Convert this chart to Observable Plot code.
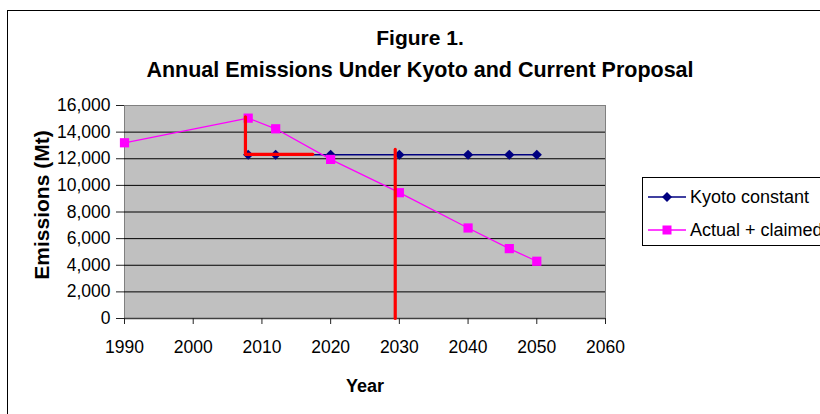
<!DOCTYPE html>
<html><head><meta charset="utf-8">
<script src="https://cdn.jsdelivr.net/npm/d3@7"></script>
<script src="https://cdn.jsdelivr.net/npm/@observablehq/plot@0.6"></script>
<style>
html,body{margin:0;padding:0;background:#fff;overflow:hidden;}
#page{position:relative;width:820px;height:414px;overflow:hidden;font-family:"Liberation Sans",Arial,sans-serif;color:#000;}
#frame{position:absolute;left:7px;top:10px;width:900px;height:500px;border:1px solid #000;box-sizing:border-box;pointer-events:none;}
.t{position:absolute;white-space:nowrap;line-height:1;}
#title1{left:0;width:840px;text-align:center;top:27px;font-weight:bold;font-size:21px;}
#title2{left:0;width:840px;text-align:center;top:60px;font-weight:bold;font-size:21.5px;}
#xlab{left:365px;top:377px;transform:translateX(-50%);font-weight:bold;font-size:18px;}
#ylab{left:41px;top:205px;transform:translate(-50%,-50%) rotate(-90deg);font-weight:bold;font-size:21px;}
#chart{position:absolute;left:0;top:0;}
#legend{position:absolute;left:642px;top:177px;width:250px;height:69px;border:1px solid #000;box-sizing:border-box;background:#fff;}
.row{position:absolute;left:0;height:20px;display:flex;align-items:center;font-size:18px;}
.row svg{display:block;margin-left:5px;margin-right:4px;}
</style></head><body>
<div id="page">
  <div id="chart"></div>
  <div id="frame"></div>
  <div class="t" id="title1">Figure 1.</div>
  <div class="t" id="title2">Annual Emissions Under Kyoto and Current Proposal</div>
  <div class="t" id="xlab">Year</div>
  <div class="t" id="ylab">Emissions (Mt)</div>
  <div id="legend"></div>
</div>
<script>
// ---- data ----
const kyotoYears  = [2008, 2012, 2020, 2030, 2040, 2046, 2050];
const kyotoValues = [12300, 12300, 12300, 12300, 12300, 12300, 12300];

const actualYears  = [1990, 2008, 2012, 2020, 2030, 2040, 2046, 2050];
const actualValues = [13200, 15050, 14250, 11950, 9450, 6800, 5250, 4300];

// red annotation lines
const redLine1Years  = [2007.6, 2007.6, 2017.4];
const redLine1Values = [15150, 12330, 12330];
const redLine2Years  = [2029.4, 2029.4];
const redLine2Values = [12700, 0];

const xTicks = [1990, 2000, 2010, 2020, 2030, 2040, 2050, 2060];
const yTicks = [0, 2000, 4000, 6000, 8000, 10000, 12000, 14000, 16000];

const seriesNames = ["Kyoto constant", "Actual + claimed"];
const kyotoColor = "#000080";
const actualColor = "#FF00FF";
const redColor = "#FF0000";

// ---- tables ----
const kyoto = kyotoYears.map((x, i) => ({x, y: kyotoValues[i]}));
const actual = actualYears.map((x, i) => ({x, y: actualValues[i]}));
const red1 = redLine1Years.map((x, i) => ({x, y: redLine1Values[i]}));
const red2 = redLine2Years.map((x, i) => ({x, y: redLine2Values[i]}));

const chart = Plot.plot({
  width: 820,
  height: 414,
  marginLeft: 124,
  marginRight: 215,
  marginTop: 105,
  marginBottom: 96,
  style: {background: "transparent", fontFamily: "'Liberation Sans', Arial, sans-serif", color: "#000"},
  x: {domain: [1990, 2060]},
  y: {domain: [0, 16000]},
  marks: [
    Plot.frame({fill: "#C0C0C0", stroke: "#808080"}),
    Plot.ruleY(yTicks.filter(d => d > 0 && d < 16000), {stroke: "#000", strokeWidth: 1}),
    Plot.ruleY([0], {stroke: "#404040", strokeWidth: 1.5}),
    Plot.line(kyoto, {x: "x", y: "y", stroke: kyotoColor, strokeWidth: 1.5}),
    Plot.line(actual, {x: "x", y: "y", stroke: actualColor, strokeWidth: 1.3}),
    Plot.dot(kyoto, {x: "x", y: "y", symbol: "diamond2", r: 4.6, fill: kyotoColor, stroke: "none"}),
    Plot.dot(actual, {x: "x", y: "y", symbol: "square", r: 5.2, fill: actualColor, stroke: "none"}),
    Plot.line(red1, {x: "x", y: "y", stroke: redColor, strokeWidth: 3.2}),
    Plot.line(red2, {x: "x", y: "y", stroke: redColor, strokeWidth: 3.2}),
    Plot.axisX({ticks: xTicks, tickFormat: d => String(d), tickSize: 6, tickPadding: 16, fontSize: 17.5, stroke: "#222", fill: "#000", label: null}),
    Plot.axisY({ticks: yTicks, tickFormat: d3.format(","), tickSize: 8, tickPadding: 6, fontSize: 17.5, stroke: "#222", fill: "#000", label: null})
  ]
});
document.getElementById("chart").appendChild(chart);

// ---- legend ----
const legend = document.getElementById("legend");
const legendItems = [
  {name: seriesNames[0], color: kyotoColor, shape: "diamond"},
  {name: seriesNames[1], color: actualColor, shape: "square"}
];
legendItems.forEach((item, i) => {
  const row = document.createElement("div");
  row.className = "row";
  row.style.top = (9 + i * 33) + "px";
  const marker = item.shape === "diamond"
    ? `<path d="M19,5 L24,10 L19,15 L14,10 Z" fill="${item.color}"/>`
    : `<rect x="14.5" y="5.5" width="9" height="9" fill="${item.color}"/>`;
  row.innerHTML = `<svg width="38" height="20"><line x1="0" y1="10" x2="38" y2="10" stroke="${item.color}" stroke-width="1.5"/>${marker}</svg><span>${item.name}</span>`;
  legend.appendChild(row);
});
</script>
</body></html>
